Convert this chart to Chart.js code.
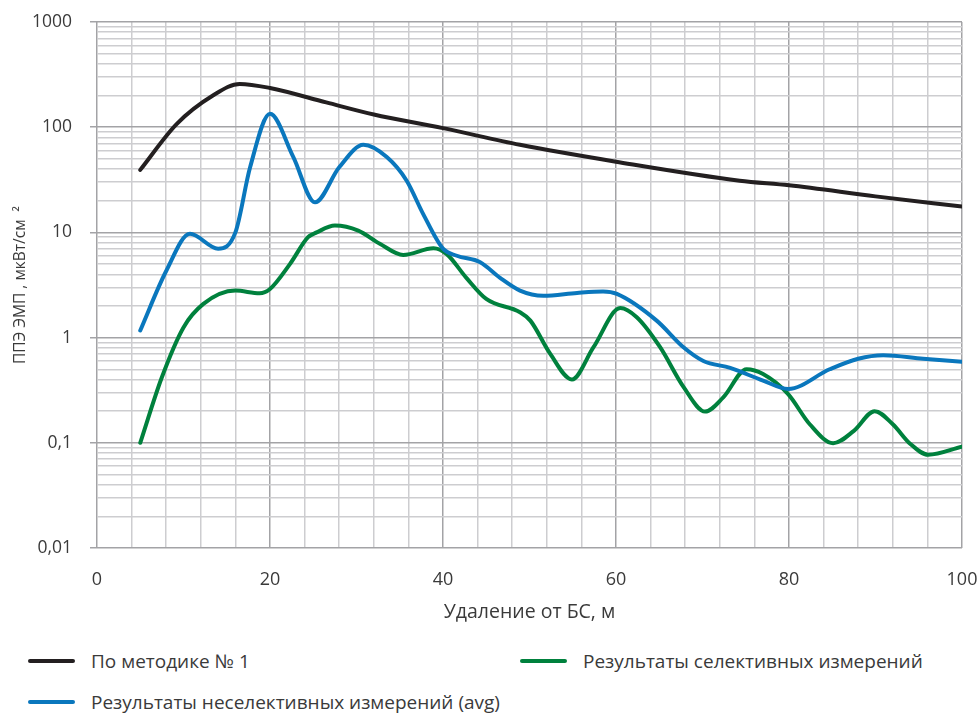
<!DOCTYPE html>
<html>
<head>
<meta charset="utf-8">
<script src="https://cdn.jsdelivr.net/npm/chart.js@4"></script>
<style>
  body{margin:0;background:#fff;font-family:"Open Sans",sans-serif}
  #wrap{position:relative;width:980px;height:713px}
  #chart{position:absolute;left:0;top:0}
  .lg{position:absolute;font-size:19px;color:#3a3a3a;line-height:22px;white-space:nowrap}
  .lg i{position:absolute;left:-63px;top:9px;width:47px;height:4px;border-radius:2px}
</style>
</head>
<body>
<div id="wrap">
  <canvas id="chart" width="980" height="640"></canvas>
  <div class="lg" style="left:91px;top:650px"><i style="background:#231f20"></i>По методике № 1</div>
  <div class="lg" style="left:583px;top:650px"><i style="background:#00813d"></i>Результаты селективных измерений</div>
  <div class="lg" style="left:91px;top:691px"><i style="background:#0a77bd"></i>Результаты неселективных измерений (avg)</div>
</div>
<script>
// distance, m
const blackX = [5, 9.2, 13.4, 16.5, 20, 26.5, 32, 40, 48.9, 60, 74.3, 80, 90, 100]
const blackY = [39.3, 107, 200, 258, 236, 172, 132, 98, 68, 47, 31, 28, 22, 17.6]

const blueX = [5, 8, 10.75, 14, 16, 17.7, 20, 22.7, 25.2, 28, 30.8, 33.5, 35.8, 37.7, 40, 41.6, 44.3, 46.6, 48.9, 51.6, 55.5, 58.5, 60.1, 64.7, 67.8, 70.1, 73.2, 77, 79.9, 84.7, 88, 90.9, 95.5, 100]
const blueY = [1.17, 4.3, 9.7, 7.0, 10, 41.6, 134, 52, 19.3, 41.6, 68, 52, 31, 15, 7.0, 6.0, 5.2, 3.7, 2.8, 2.5, 2.66, 2.74, 2.6, 1.45, 0.81, 0.60, 0.515, 0.39, 0.325, 0.50, 0.63, 0.68, 0.63, 0.59]

const greenX = [5, 7.5, 10, 12.3, 16, 18.8, 20, 22.3, 24.4, 25.4, 27.5, 30.2, 32.7, 35.4, 38.9, 40.4, 42.7, 45, 48.9, 50.1, 52.4, 54.9, 57.4, 60.5, 62.4, 65.1, 67.8, 70.3, 72.4, 75.1, 77, 79.9, 82.4, 85.1, 87.5, 89.9, 92, 94, 96.1, 100]
const greenY = [0.1, 0.42, 1.25, 2.09, 2.8, 2.64, 2.9, 5.0, 9.0, 10.0, 11.6, 10.4, 7.8, 6.1, 7.06, 6.25, 3.7, 2.33, 1.74, 1.45, 0.70, 0.40, 0.81, 1.91, 1.56, 0.81, 0.34, 0.198, 0.27, 0.50, 0.45, 0.29, 0.15, 0.099, 0.13, 0.20, 0.15, 0.098, 0.077, 0.092]

const yTicks = [0.01, 0.1, 1, 10, 100, 1000]
const yTickLabels = ['0,01', '0,1', '1', '10', '100', '1000']
const xLabelEvery = 20

const pts = (xs, ys) => xs.map((x, i) => ({x, y: ys[i]}))
const isDecade = v => Math.abs(Math.log10(v) - Math.round(Math.log10(v))) < 1e-6

function series(label, xs, ys, color){
  return {label, data: pts(xs, ys), borderColor: color, borderWidth: 4, pointRadius: 0,
    cubicInterpolationMode: 'monotone', borderCapStyle: 'round', fill: false}
}

const ctx = document.getElementById('chart').getContext('2d')
new Chart(ctx, {
  type: 'line',
  data: {datasets: [
    series('По методике № 1', blackX, blackY, '#231f20'),
    series('Результаты неселективных измерений (avg)', blueX, blueY, '#0a77bd'),
    series('Результаты селективных измерений', greenX, greenY, '#00813d')
  ]},
  options: {
    responsive: false, animation: false,
    layout: {padding: {left: 0, right: 18, top: 22, bottom: 0}},
    plugins: {legend: {display: false}, tooltip: {enabled: false}},
    scales: {
      x: {
        type: 'linear', min: 0, max: 100,
        afterFit: s => { s.height = 92; s.paddingLeft = 0; s.paddingRight = 0 },
        ticks: {stepSize: 4, autoSkip: false, maxRotation: 0, padding: 21, color: '#3a3a3a',
          font: {family: 'Open Sans', size: 18},
          callback: v => v % xLabelEvery === 0 ? String(v) : ''},
        grid: {drawTicks: false, lineWidth: 1.5,
          color: c => c.tick && c.tick.value % 20 === 0 ? '#a3a3a6' : '#cdcdd0'},
        border: {display: false},
        title: {display: true, text: 'Удаление от БС, м', color: '#3a3a3a',
          font: {family: 'Open Sans', size: 19.5}, padding: {top: 2, bottom: 16}}
      },
      y: {
        type: 'logarithmic', min: 0.01, max: 1000,
        afterBuildTicks: s => {
          const t = []
          for(let e = -2; e <= 2; e++) for(let m = 1; m <= 9; m++) t.push({value: m * Math.pow(10, e)})
          t.push({value: 1000})
          s.ticks = t
        },
        afterFit: s => { s.width = 97; s.paddingTop = 0; s.paddingBottom = 0 },
        ticks: {autoSkip: false, padding: 18, color: '#3a3a3a', font: {family: 'Open Sans', size: 17.5},
          callback: v => {
            const i = yTicks.findIndex(t => Math.abs(t - v) / t < 1e-6)
            return i >= 0 ? yTickLabels[i] : ''
          }},
        grid: {lineWidth: 1.5, tickLength: 7,
          color: c => c.tick && isDecade(c.tick.value) ? '#a3a3a6' : '#cdcdd0',
          tickColor: c => c.tick && isDecade(c.tick.value) ? '#a3a3a6' : 'rgba(0,0,0,0)'},
        border: {display: false},
        title: {display: true, text: 'ППЭ ЭМП , мкВт/см  ²', color: '#3a3a3a',
          font: {family: 'Open Sans', size: 15.5}, padding: {top: 11, bottom: 0}}
      }
    }
  }
})
</script>
</body>
</html>
